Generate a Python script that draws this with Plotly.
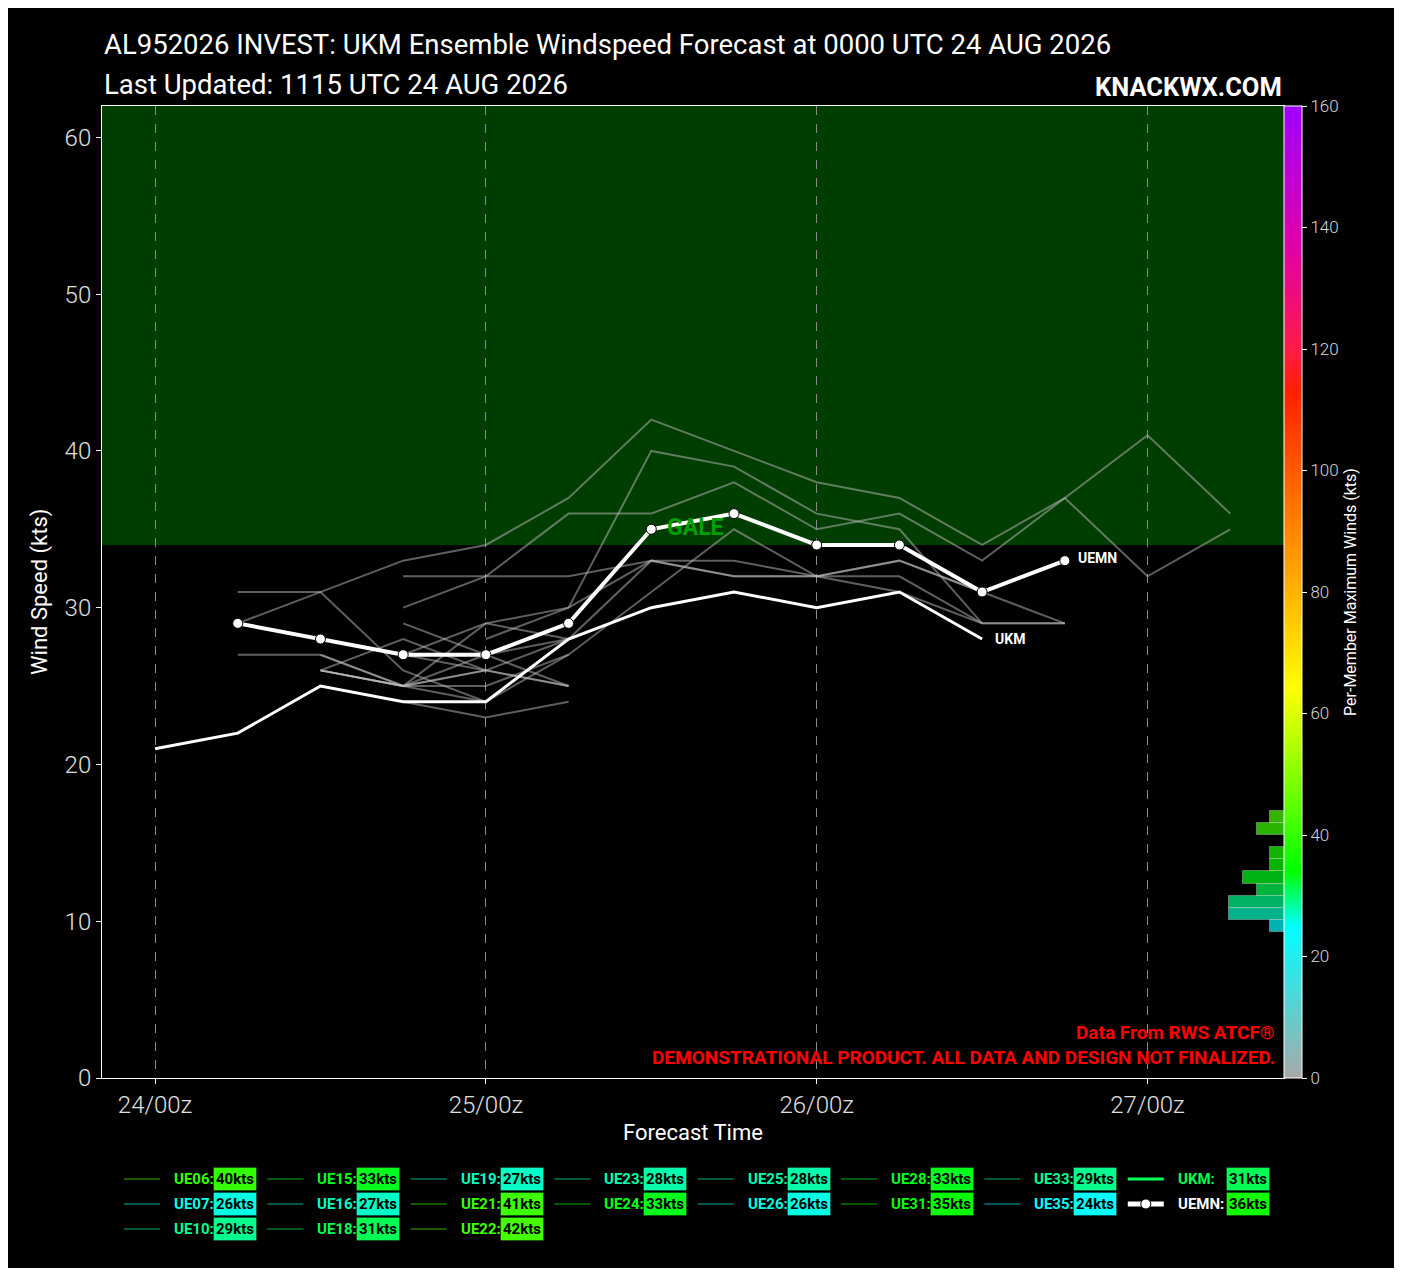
import numpy as np
import plotly.graph_objects as go

# forecast hours (6-hourly) from 0000 UTC 24 AUG
hours = [0, 6, 12, 18, 24, 30, 36, 42, 48, 54, 60, 66, 72, 78]
tick_hours = [0, 24, 48, 72]
tick_labels = ['24/00z', '25/00z', '26/00z', '27/00z']
N = None

members = ['UE06', 'UE07', 'UE10', 'UE15', 'UE16', 'UE18', 'UE19', 'UE21', 'UE22',
           'UE23', 'UE24', 'UE25', 'UE26', 'UE28', 'UE31', 'UE33', 'UE35']
member_max = [40, 26, 29, 33, 27, 31, 27, 41, 42, 28, 33, 28, 26, 33, 35, 29, 24]

ue06 = [N, N, 26, 25, 29, 30, 40, 39, 36, 35, 29, 29, N, N]
ue07 = [N, N, 26, 25, 26, 25, N, N, N, N, N, N, N, N]
ue10 = [N, N, N, 29, 27, 25, N, N, N, N, N, N, N, N]
ue15 = [N, N, N, 32, 32, 32, 33, 33, 32, 33, 31, 29, N, N]
ue16 = [N, N, 27, 25, 26, N, N, N, N, N, N, N, N, N]
ue18 = [N, 31, 31, 26, 24, 27, N, N, N, N, N, N, N, N]
ue19 = [N, 27, 27, 25, 25, N, N, N, N, N, N, N, N, N]
ue21 = [N, N, N, 30, 32, 36, 36, 38, 35, 36, 33, 37, 41, 36]
ue22 = [N, 29, 31, 33, 34, 37, 42, 40, 38, 37, 34, 37, 32, 35]
ue23 = [N, N, 26, 28, 26, 25, N, N, N, N, N, N, N, N]
ue24 = [N, N, N, N, 28, 30, 33, 32, 32, 32, 29, 29, N, N]
ue25 = [N, N, 26, 25, 27, 28, N, N, N, N, N, N, N, N]
ue26 = [N, N, 26, 25, 24, N, N, N, N, N, N, N, N, N]
ue28 = [N, N, N, 27, 26, 28, 33, 32, 32, 33, 31, N, N, N]
ue31 = [N, N, N, N, 25, 27, 31, 35, 32, 31, 29, N, N, N]
ue33 = [N, N, 28, 27, 29, 28, N, N, N, N, N, N, N, N]
ue35 = [N, N, N, 24, 23, 24, N, N, N, N, N, N, N, N]
member_series = [ue06, ue07, ue10, ue15, ue16, ue18, ue19, ue21, ue22,
                 ue23, ue24, ue25, ue26, ue28, ue31, ue33, ue35]

ukm = [21, 22, 25, 24, 24, 28, 30, 31, 30, 31, 28, N, N, N]
uemn = [N, 29, 28, 27, 27, 29, 35, 36, 34, 34, 31, 33, N, N]
ukm_max = 31
uemn_max = 36

# colour scale for per-member maximum winds
cb_stops = [0, 25, 34, 64, 83, 113, 120, 137, 160]
cb_colors = ['#a9a9a9', '#00ffff', '#00ff00', '#ffff00', '#ffa500',
             '#ff2000', '#ff1a48', '#e000a8', '#a000ff']
colorscale = [[s / 160, c] for s, c in zip(cb_stops, cb_colors)]


def hex_rgb(h):
    return [int(h[i:i + 2], 16) for i in (1, 3, 5)]


def wind_rgb(v):
    rgbs = np.array([hex_rgb(c) for c in cb_colors], dtype=float)
    return [np.interp(v, cb_stops, rgbs[:, k]) for k in range(3)]


def wind_color(v, a=1.0):
    r, g, b = wind_rgb(v)
    return f'rgba({r:.0f},{g:.0f},{b:.0f},{a})'


FONT = 'Roboto, Liberation Sans, sans-serif'

fig = go.Figure()

for name, ys in zip(members, member_series):
    fig.add_trace(go.Scatter(x=hours, y=ys, mode='lines', name=name,
                             line=dict(color='rgba(190,190,190,0.5)', width=2),
                             showlegend=False, hoverinfo='skip'))

fig.add_trace(go.Scatter(x=hours, y=ukm, mode='lines', name='UKM',
                         line=dict(color='white', width=3), showlegend=False))
fig.add_trace(go.Scatter(x=hours, y=uemn, mode='lines+markers', name='UEMN',
                         line=dict(color='white', width=4),
                         marker=dict(color='white', size=10,
                                     line=dict(color='black', width=1)),
                         showlegend=False))

# histogram of per-member maxima (incl. UKM and UEMN)
all_max = member_max + [ukm_max, uemn_max]
edges = np.arange(24, 46, 2)
counts, _ = np.histogram(all_max, bins=edges)
centers = (edges[:-1] + edges[1:]) / 2
keep = counts > 0
fig.add_trace(go.Bar(x=counts[keep], y=centers[keep], orientation='h', width=2,
                     xaxis='x2', yaxis='y2', showlegend=False,
                     marker=dict(color=[wind_color(c, 0.7) for c in centers[keep]],
                                 line=dict(color='rgba(255,255,255,0.3)', width=1))))

# colour bar
fig.add_trace(go.Scatter(x=[-100], y=[-100], mode='markers', showlegend=False,
                         hoverinfo='skip',
                         marker=dict(color=[0], cmin=0, cmax=160, colorscale=colorscale,
                                     showscale=True,
                                     colorbar=dict(x=1.0, xanchor='left', xpad=0,
                                                   y=0.5, len=1, lenmode='fraction',
                                                   thickness=18, ypad=0,
                                                   outlinecolor='white', outlinewidth=1,
                                                   tickvals=list(range(0, 161, 20)),
                                                   ticks='outside', ticklen=5,
                                                   tickcolor='white',
                                                   tickfont=dict(size=17, color='#d8d8d8',
                                                                 weight=300),
                                                   title=dict(text='Per-Member Maximum Winds (kts)',
                                                              side='right',
                                                              font=dict(size=16, color='white'))))))

shapes = [dict(type='rect', xref='paper', yref='y', x0=0, x1=1, y0=34, y1=62,
               fillcolor='#003d00', line=dict(width=0), layer='below')]

annotations = [
    dict(x=37, y=34.1, xref='x', yref='y', text='<b>GALE</b>', showarrow=False,
         xanchor='left', yanchor='bottom', font=dict(size=23, color='#00a000')),
    dict(x=60.8, y=28, xref='x', yref='y', text='<b>UKM</b>', showarrow=False,
         xanchor='left', yanchor='middle', font=dict(size=14, color='white')),
    dict(x=66.8, y=33.2, xref='x', yref='y', text='<b>UEMN</b>', showarrow=False,
         xanchor='left', yanchor='middle', font=dict(size=14, color='white')),
    dict(x=0, y=1.0628, xref='paper', yref='paper', showarrow=False, xanchor='left',
         yanchor='middle', text='AL952026 INVEST: UKM Ensemble Windspeed Forecast at 0000 UTC 24 AUG 2026',
         font=dict(size=27.5, color='white')),
    dict(x=0, y=1.0226, xref='paper', yref='paper', showarrow=False, xanchor='left',
         yanchor='middle', text='Last Updated: 1115 UTC 24 AUG 2026',
         font=dict(size=27.5, color='white')),
    dict(x=1.0, y=1.0195, xref='paper', yref='paper', showarrow=False, xanchor='right',
         yanchor='middle', text='<b>KNACKWX.COM</b>', font=dict(size=25.5, color='white')),
    dict(x=0.994, y=0.0463, xref='paper', yref='paper', showarrow=False, xanchor='right',
         yanchor='middle', text='<b>Data From RWS ATCF®</b>', font=dict(size=19, color='red')),
    dict(x=0.994, y=0.0206, xref='paper', yref='paper', showarrow=False, xanchor='right',
         yanchor='middle',
         text='<b>DEMONSTRATIONAL PRODUCT. ALL DATA AND DESIGN NOT FINALIZED.</b>',
         font=dict(size=19, color='red')),
    dict(x=-0.0525, y=0.5, xref='paper', yref='paper', showarrow=False, textangle=-90,
         xanchor='center', yanchor='middle', text='Wind Speed (kts)',
         font=dict(size=22, color='white')),
    dict(x=0.5, y=-0.0556, xref='paper', yref='paper', showarrow=False,
         xanchor='center', yanchor='middle', text='Forecast Time',
         font=dict(size=22, color='white')),
]

# custom legend: 8 columns, column-major
entries = [(m, v, wind_color(v, 0.35), wind_color(v)) for m, v in zip(members, member_max)]
entries += [('UKM', ukm_max, wind_color(ukm_max), wind_color(ukm_max)),
            ('UEMN', uemn_max, 'white', 'white')]
col_sizes = [3, 3, 3, 2, 2, 2, 2, 2]
row_px = [1179, 1204, 1229]
W, H = 1182.0, 972.0
k = 0
for c, n in enumerate(col_sizes):
    x0 = 124 + c * 143.4
    for r in range(n):
        name, val, lcol, tcol = entries[k]
        k += 1
        yp = (1078 - row_px[r]) / H
        lw = 3 if name in ('UKM', 'UEMN') else 2
        if name == 'UEMN':
            lw = 5
        shapes.append(dict(type='line', xref='paper', yref='paper',
                           x0=(x0 - 102) / W, x1=(x0 + 36 - 102) / W, y0=yp, y1=yp,
                           line=dict(color=lcol, width=lw)))
        if name == 'UEMN':
            cx = x0 + 18
            shapes.append(dict(type='circle', xref='paper', yref='paper',
                               x0=(cx - 5 - 102) / W, x1=(cx + 5 - 102) / W,
                               y0=yp - 5 / H, y1=yp + 5 / H,
                               fillcolor='white', line=dict(color='black', width=1)))
        annotations.append(dict(x=(x0 + 48 - 102) / W, y=yp, xref='paper', yref='paper',
                                showarrow=False, xanchor='left', yanchor='middle',
                                text=f'<b>{name}:</b>', font=dict(size=15, color=tcol)))
        bx = x0 + (98 if name in ('UKM', 'UEMN') else 89)
        annotations.append(dict(x=(bx - 102) / W, y=yp, xref='paper', yref='paper',
                                showarrow=False, xanchor='left', yanchor='middle',
                                text=f'<b>{val}kts</b>', bgcolor=wind_color(val),
                                bordercolor='rgba(0,0,0,0.3)', borderwidth=1, borderpad=2,
                                font=dict(size=15, color='black')))

# page has an 8px body margin, so the figure is drawn 8px smaller and offset
fig.update_layout(
    width=1386, height=1260,
    margin=dict(l=94, r=110, t=98, b=190, pad=0),
    paper_bgcolor='black', plot_bgcolor='black',
    font=dict(family=FONT, color='white'),
    shapes=shapes, annotations=annotations,
    showlegend=False, bargap=0,
    xaxis=dict(range=[-3.85, 81.9], tickvals=tick_hours, ticktext=tick_labels,
               showgrid=True, gridcolor='#8a8a8a', griddash='dash', gridwidth=1,
               zeroline=False, showline=True, linecolor='white', linewidth=1, mirror=True,
               ticks='outside', ticklen=5, tickcolor='white',
               tickfont=dict(size=24, color='#e0e0e0', weight=300)),
    yaxis=dict(range=[0, 62], tickvals=list(range(0, 61, 10)), showgrid=False,
               zeroline=False, showline=True, linecolor='white', linewidth=1, mirror=True,
               ticks='outside', ticklen=5, tickcolor='white',
               tickfont=dict(size=24, color='#e0e0e0', weight=300)),
    xaxis2=dict(overlaying='x', anchor='y', range=[86.3, 0], visible=False),
    yaxis2=dict(overlaying='y', anchor='x', range=[0, 160], visible=False),
)

fig.write_html('out.html')
